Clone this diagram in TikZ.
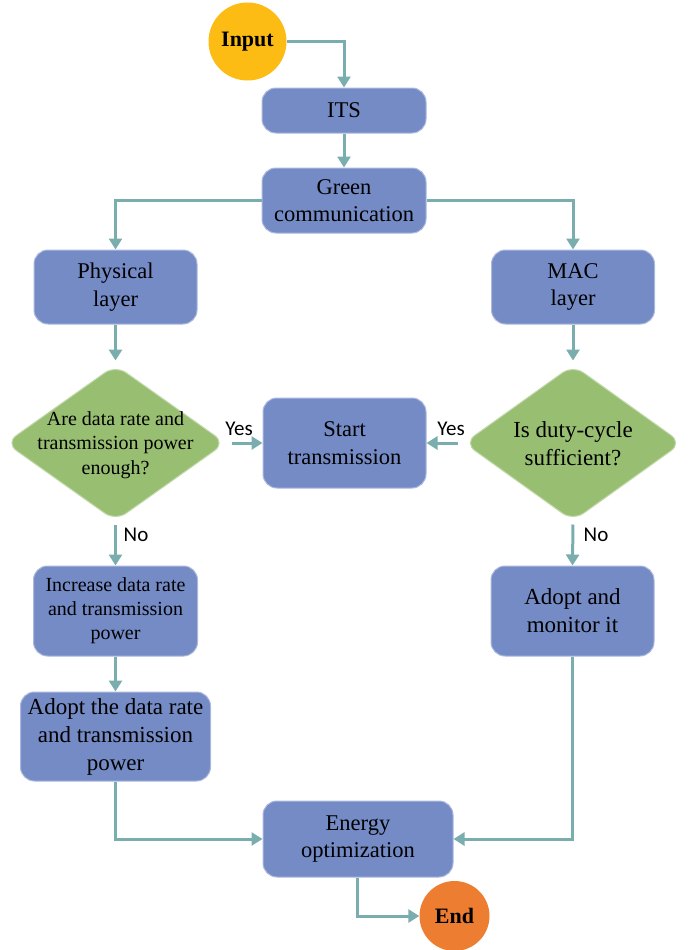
\documentclass[tikz,border=0pt]{standalone}
\usepackage{fontspec}
\setmainfont{Liberation Serif}
\newfontfamily\yesfont{Carlito}
\usetikzlibrary{shapes.geometric,arrows.meta}
\definecolor{boxblue}{RGB}{116,139,198}
\definecolor{dgreen}{RGB}{152,190,114}
\definecolor{ccol}{RGB}{122,174,174}
\definecolor{inyellow}{RGB}{253,188,20}
\definecolor{endorange}{RGB}{237,125,49}
\begin{document}
\begin{tikzpicture}[x=1pt,y=-1pt,
 box/.style={rectangle, rounded corners=14pt, fill=boxblue, draw=boxblue!60!white, line width=1pt, inner sep=0pt, align=center, font=\fontsize{22.5}{27.5}\selectfont},
 dec/.style={diamond, rounded corners=13pt, fill=dgreen, draw=dgreen!60!white, line width=1pt, inner sep=0pt},
 dectext/.style={inner sep=0pt, align=center},
 term/.style={circle, inner sep=0pt, font=\fontsize{22}{26}\selectfont\bfseries},
 conn/.style={draw=ccol, line width=3pt, -{Triangle[width=13pt,length=11pt]}},
 lab/.style={font=\yesfont\fontsize{21}{24}\selectfont, inner sep=0pt}]
\useasboundingbox (0,0) rectangle (688,950);

\node[term, fill=inyellow, minimum size=78pt] (in) at (247.5,41.5) {Input};
\node[box, minimum width=164pt, minimum height=45pt] (its) at (344,110.5) {ITS};
\node[box, minimum width=164pt, minimum height=65pt] (green) at (344,200.5) {Green\\communication};
\node[box, minimum width=163pt, minimum height=74pt] (phys) at (115.5,287) {Physical\\layer};
\node[box, minimum width=163pt, minimum height=74pt] (mac) at (573,287) {MAC\\layer};
\node[dec, minimum width=220pt, minimum height=156pt] (d1) at (115.5,443) {};
\node[dectext, font=\fontsize{20}{24.5}\selectfont] (d1t) at (115.5,445) {Are data rate and\\transmission power\\enough?};
\node[dec, minimum width=218pt, minimum height=156pt] (d2) at (573,443) {};
\node[dectext, font=\fontsize{23}{28}\selectfont] (d2t) at (573,444) {Is duty-cycle\\sufficient?};
\node[box, minimum width=163pt, minimum height=90pt] (start) at (344.5,443) {Start\\transmission};
\node[box, minimum width=164pt, minimum height=90pt, font=\fontsize{20}{24}\selectfont] (inc) at (115.5,611) {Increase data rate\\and transmission\\power};
\node[box, minimum width=190pt, minimum height=89pt, font=\fontsize{23}{28}\selectfont] (ad1) at (115.5,736.5) {Adopt the data rate\\and transmission\\power};
\node[box, minimum width=163pt, minimum height=90pt, font=\fontsize{23}{28}\selectfont] (ad2) at (572.5,611) {Adopt and\\monitor it};
\node[box, minimum width=190pt, minimum height=76pt] (en) at (358,839) {Energy\\optimization};
\node[term, fill=endorange, minimum size=70pt] (endn) at (454.5,916) {End};

\node[lab] (yes1) at (239,429) {Yes};
\node[lab] (yes2) at (451,429) {Yes};
\node[lab] (no1) at (136,535) {No};
\node[lab] (no2) at (596,535) {No};

\draw[conn] (in.east) -| (its.north);
\draw[conn] (its.south) -- (green.north);
\draw[conn] (green.west) -| (phys.north);
\draw[conn] (green.east) -| (mac.north);
\draw[conn, shorten >=4pt] (phys.south) -- (d1.north);
\draw[conn, shorten >=4pt] (mac.south) -- (d2.north);
\draw[conn] ([xshift=6pt]d1.east) -- (start.west);
\draw[conn] ([xshift=-6pt]d2.west) -- (start.east);
\draw[conn, shorten <=3pt] (d1.south) -- (inc.north);
\draw[conn, shorten <=3pt] (d2.south) -- (ad2.north);
\draw[conn] (inc.south) -- (ad1.north);
\draw[conn] (ad1.south) |- (en.west);
\draw[conn] (ad2.south) |- (en.east);
\draw[conn] ([xshift=-1pt]en.south) |- (endn.west);
\end{tikzpicture}
\end{document}
